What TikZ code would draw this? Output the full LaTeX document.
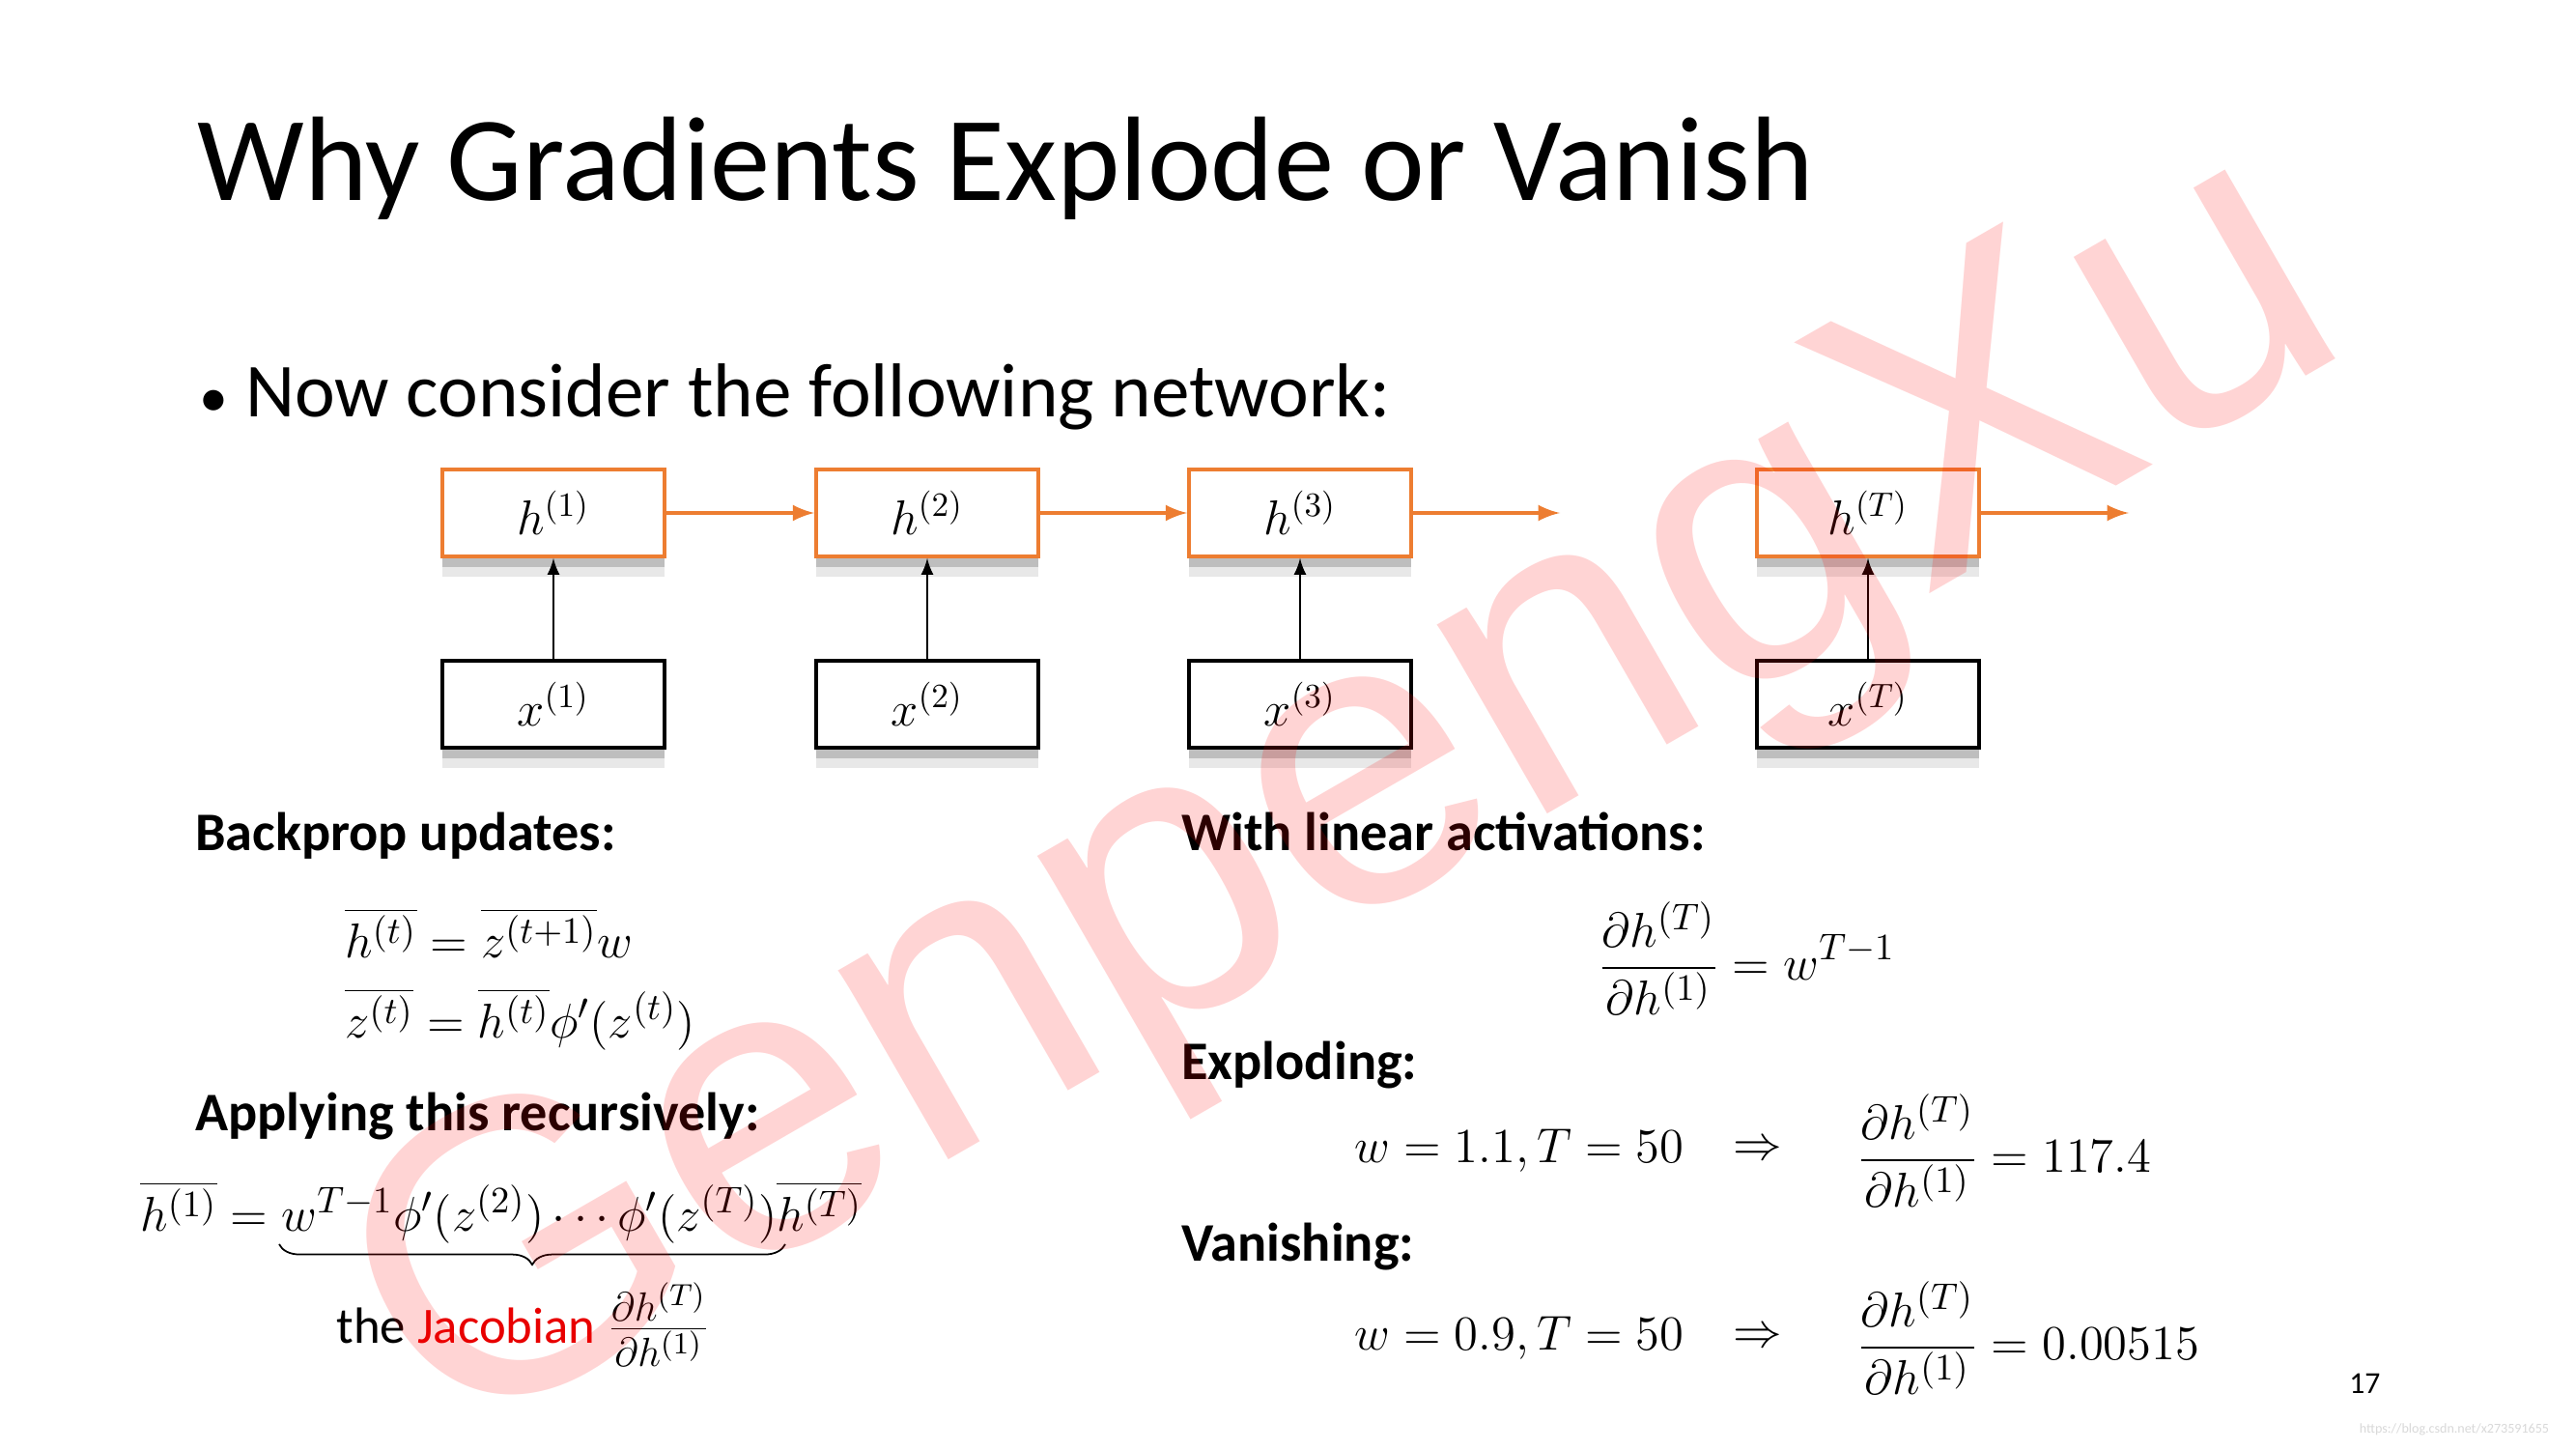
\documentclass[tikz,border=0pt]{standalone}
\usepackage{fontspec}
\setmainfont{Carlito}
\newfontfamily\markfont{Liberation Sans}
\usetikzlibrary{arrows,positioning,shadows,decorations.pathreplacing}
\usepackage{xcolor}
\definecolor{netorange}{RGB}{237,125,49}
\definecolor{jacred}{RGB}{232,0,0}

\begin{document}
\begin{tikzpicture}[
    hbox/.style={rectangle, draw=netorange, line width=1pt, fill=white,
                 minimum width=2.3cm, minimum height=0.9cm, font=\fontsize{14}{16}\selectfont,
                 drop shadow={shadow xshift=0pt, shadow yshift=-6pt, opacity=0.18},
                 drop shadow={shadow xshift=0pt, shadow yshift=-3pt, opacity=0.4}},
    xbox/.style={hbox, draw=black},
    head/.style={anchor=base west, font=\fontsize{16}{18}\selectfont\bfseries},
    eq/.style={anchor=west, font=\fontsize{15}{18}\selectfont},
]
\useasboundingbox[fill=white] (0,0) rectangle (26.67,15);

% Title and bullet
\node[anchor=base west, font=\fontsize{35.4}{40}\selectfont] (title) at (1.92, 12.92) {Why Gradients Explode or Vanish};
\node[anchor=base west, font=\fontsize{22.5}{26}\selectfont] (bullet) at (1.94, 10.68) {{\fontsize{17}{17}\selectfont\textbullet}\ Now consider the following network:};

% Network nodes
\node[hbox] (h1) at (5.73, 9.69) {$h^{(1)}$};
\node[hbox] (h2) at (9.60, 9.69) {$h^{(2)}$};
\node[hbox] (h3) at (13.46, 9.69) {$h^{(3)}$};
\node[hbox] (hT) at (19.34, 9.69) {$h^{(T)}$};
\node[xbox] (x1) at (5.73, 7.71) {$x^{(1)}$};
\node[xbox] (x2) at (9.60, 7.71) {$x^{(2)}$};
\node[xbox] (x3) at (13.46, 7.71) {$x^{(3)}$};
\node[xbox] (xT) at (19.34, 7.71) {$x^{(T)}$};
\coordinate (h3out) at (16.15, 9.69);
\coordinate (hTout) at (22.04, 9.69);

% Connections
\draw[-latex, line width=1.2pt, netorange] (h1) -- (h2);
\draw[-latex, line width=1.2pt, netorange] (h2) -- (h3);
\draw[-latex, line width=1.2pt, netorange] (h3) -- (h3out);
\draw[-latex, line width=1.2pt, netorange] (hT) -- (hTout);
\foreach \t in {1, 2, 3, T} {
    \draw[-latex, line width=0.7pt] (x\t) -- (h\t);
}

% Left column
\node[head] (bpup) at (1.90, 6.20) {Backprop updates:};
\node[eq] (bpeq1) at (3.45, 5.34) {$\overline{h^{(t)}} = \overline{z^{(t+1)}}w$};
\node[eq] (bpeq2) at (3.45, 4.45) {$\overline{z^{(t)}} = \overline{h^{(t)}}\phi'(z^{(t)})$};
\node[head] (recur) at (1.90, 3.30) {Applying this recursively:};
\node[eq] (receq) at (1.33, 2.45) {$\overline{h^{(1)}} = w^{T-1}\phi'\bigl(z^{(2)}\bigr)\cdots\phi'(z^{(T)})\overline{h^{(T)}}$};
\coordinate (brl) at (2.89, 2.12);
\coordinate (brr) at (8.13, 2.12);
\draw[decorate, decoration={brace, mirror, amplitude=6pt}, line width=0.5pt] (brl) -- (brr);
\node[eq, anchor=center] (jac) at (5.42, 1.29) {the \textcolor{jacred}{Jacobian} {\fontsize{18}{20}\selectfont$\frac{\partial h^{(T)}}{\partial h^{(1)}}$}};

% Right column
\node[head] (linact) at (12.11, 6.20) {With linear activations:};
\node[eq] (lineq) at (16.42, 5.08) {$\displaystyle\frac{\partial h^{(T)}}{\partial h^{(1)}} = w^{T-1}$};
\node[head] (expl) at (12.11, 3.83) {Exploding:};
\node[eq] (expeq) at (13.90, 3.09) {$w = 1.1, T = 50$};
\node[eq, anchor=center] (expimp) at (18.20, 3.09) {$\Rightarrow$};
\node[eq] (expres) at (19.10, 3.09) {$\displaystyle\frac{\partial h^{(T)}}{\partial h^{(1)}} = 117.4$};
\node[head] (vani) at (12.11, 1.95) {Vanishing:};
\node[eq] (vaneq) at (13.90, 1.15) {$w = 0.9, T = 50$};
\node[eq, anchor=center] (vanimp) at (18.20, 1.15) {$\Rightarrow$};
\node[eq] (vanres) at (19.10, 1.15) {$\displaystyle\frac{\partial h^{(T)}}{\partial h^{(1)}} = 0.00515$};

% Page number and source
\node[anchor=base west, font=\fontsize{9}{10}\selectfont] (page) at (24.20, 0.58) {17};
\node[font=\fontsize{4}{5}\selectfont, text=gray!30] (src) at (25.41, 0.20) {https://blog.csdn.net/x273591655};

% Watermark
\node[rotate=30, text=red, opacity=0.17, font=\markfont\fontsize{122}{122}\selectfont] (mark) at (14.00, 6.62) {GenpengXu};

\end{tikzpicture}
\end{document}
